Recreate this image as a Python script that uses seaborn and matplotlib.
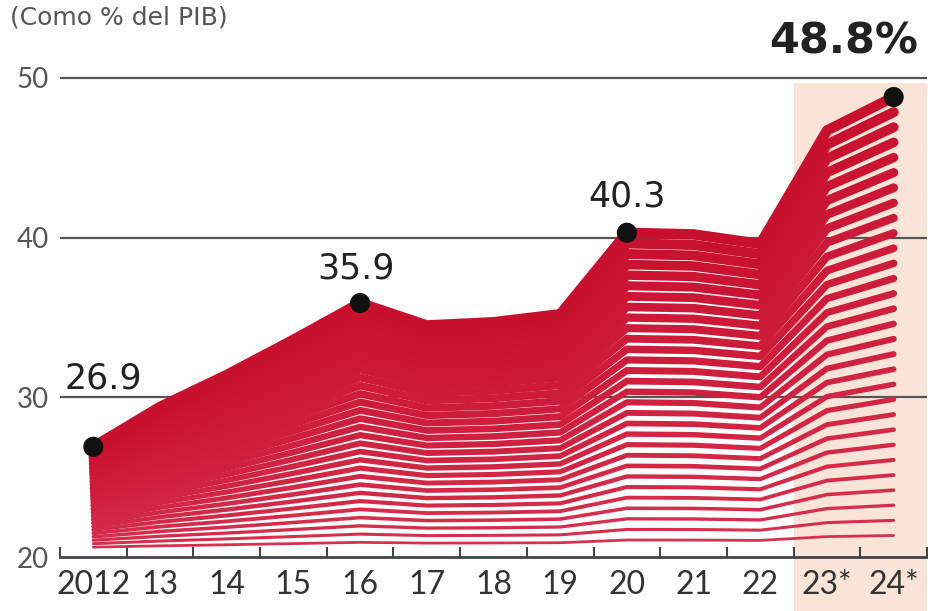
import pandas as pd
import matplotlib
matplotlib.use("Agg")
import matplotlib.pyplot as plt
import seaborn as sns

# Deuda como % del PIB
years = ['2012', '13', '14', '15', '16', '17', '18', '19', '20', '21', '22', '23*', '24*']
debt = [26.9, 29.4, 31.4, 33.6, 35.9, 34.5, 34.7, 35.2, 40.3, 40.2, 39.6, 46.7, 48.8]
highlight_idx = [0, 4, 8, 12]
highlight_txt = ['26.9', '35.9', '40.3', '48.8%']
yticks = [20, 30, 40, 50]

base = 20.4
n_lines = 30

sns.set_theme(style="white")
plt.rcParams['font.family'] = ['Lato', 'DejaVu Sans']

# stripes: scaled copies of the curve between the base and the data line
rows = []
for k in range(1, n_lines + 1):
    for i, v in enumerate(debt):
        rows.append({'x': i, 'value': base + (v - base) * k / n_lines, 'level': k})
stripes = pd.DataFrame(rows)

fig = plt.figure(figsize=(9.29, 6.11), dpi=100)
ax = fig.add_axes([60 / 929, 54 / 611, 867 / 929, 557 / 611])

# forecast band
ax.axvspan(10.5, 12.5, ymin=-0.1, ymax=0.851, color='#fae4d8', zorder=0,
           clip_on=False, lw=0)
ax.hlines([30, 40, 50], -0.5, 12.5, color='#555555', lw=1.6, zorder=1)

palette = sns.blend_palette(['#d6304e', '#c8102e'], n_lines)
sns.lineplot(data=stripes, x='x', y='value', hue='level', size='level',
             palette=palette, sizes=(2.0, 7.5), legend=False, errorbar=None,
             ax=ax, zorder=2)

hy = [debt[i] for i in highlight_idx]
sns.scatterplot(x=highlight_idx, y=hy, color='#111111', s=210, edgecolor='none',
                ax=ax, zorder=5)

offsets = [(7, 49), (-3, 25), (0, 26), (-36, 40)]
for i, txt, off in zip(highlight_idx, highlight_txt, offsets):
    bold = txt.endswith('%')
    ax.annotate(txt, (i, debt[i]), xytext=off, textcoords='offset points',
                ha='center', va='center', color='#222222', family='DejaVu Sans',
                fontsize=31 if bold else 25, fontweight='bold' if bold else 'normal')

ax.set_xlim(-0.5, 12.5)
ax.set_ylim(20, 54.875)
ax.set_xticks(range(len(years)))
ax.set_xticklabels(years)
ax.set_xticks([i - 0.5 for i in range(len(years) + 1)], minor=True)
ax.set_yticks(yticks)
ax.tick_params(axis='x', which='major', length=0, pad=9, labelsize=23, labelcolor='#333333')
ax.tick_params(axis='x', which='minor', direction='in', length=7, width=1.5,
               color='#444444', bottom=True)
ax.tick_params(axis='y', length=0, pad=8, labelsize=20, labelcolor='#555555')
ax.set_xlabel('')
ax.set_ylabel('')

for s in ['top', 'right', 'left']:
    ax.spines[s].set_visible(False)
ax.spines['bottom'].set_color('#444444')
ax.spines['bottom'].set_linewidth(2)
ax.spines['bottom'].set_zorder(6)

fig.text(10 / 929, 1 - 6 / 611, '(Como % del PIB)', ha='left', va='top',
         fontsize=18, color='#555555', family='DejaVu Sans')

fig.savefig('out.png', dpi=100)
